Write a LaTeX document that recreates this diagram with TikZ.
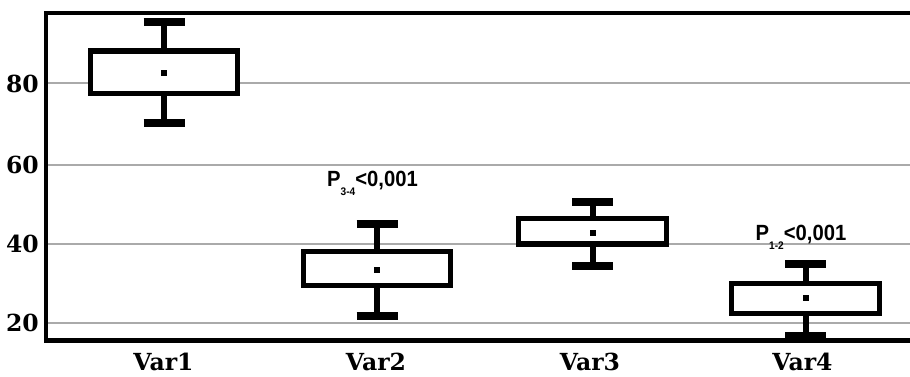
\documentclass[tikz,border=0pt]{standalone}
\usepackage{fontspec}
\newfontfamily\axfont{DejaVu Serif}
\newfontfamily\pfont[FakeStretch=0.92]{Liberation Sans}
\definecolor{gridgray}{RGB}{170,170,170}
\begin{document}
\begin{tikzpicture}[x=1pt,y=-1pt,
  gridline/.style={draw=gridgray,line width=2pt},
  frameline/.style={draw=black,line width=4.5pt},
  bx/.style={draw=black,fill=white,line width=5.5pt,inner sep=0pt,outer sep=0pt},
  stemline/.style={draw=black,line width=6pt},
  capline/.style={draw=black,line width=8pt},
  meandot/.style={fill=black,inner sep=0pt,minimum size=6pt},
  axlab/.style={font=\axfont\bfseries\fontsize{23.5}{23.5}\selectfont,inner sep=0pt},
  ptext/.style={font=\pfont\bfseries\fontsize{22}{22}\selectfont,inner sep=0pt}
]
\useasboundingbox (0,0) rectangle (910,376);
% grid
\foreach \yy in {83.3,164.7,243.7,322.7}{
  \draw[gridline] (46,\yy) -- (910,\yy);
}
% frame
\coordinate (ftr) at (910,13);
\coordinate (ftl) at (46,13);
\coordinate (fbl) at (46,340.5);
\coordinate (fbr) at (910,340.5);
\draw[frameline] (ftr) -- (ftl) -- (fbl) -- (fbr);
% whisker end coordinates
\coordinate (w1t) at (164,22);   \coordinate (w1b) at (164,123);
\coordinate (w2t) at (377,224);  \coordinate (w2b) at (377,315.5);
\coordinate (w3t) at (592.5,202);\coordinate (w3b) at (592.5,266);
\coordinate (w4t) at (805.5,264);\coordinate (w4b) at (805.5,336);
% box nodes (positions only, drawn later)
\path (164,72.25) node[minimum width=147pt,minimum height=42.5pt,inner sep=0pt,outer sep=0pt] (b1) {};
\path (377,268.5) node[minimum width=146.6pt,minimum height=34pt,inner sep=0pt,outer sep=0pt] (b2) {};
\path (592.5,231.25) node[minimum width=147.6pt,minimum height=25.5pt,inner sep=0pt,outer sep=0pt] (b3) {};
\path (805.5,298.5) node[minimum width=147.6pt,minimum height=30pt,inner sep=0pt,outer sep=0pt] (b4) {};
% stems and caps
\foreach \i in {1,2,3,4}{
  \draw[stemline] (w\i t) -- (b\i.north);
  \draw[stemline] (b\i.south) -- (w\i b);
  \draw[capline] ([xshift=-20.5pt]w\i t) -- ([xshift=20.5pt]w\i t);
  \draw[capline] ([xshift=-20.5pt]w\i b) -- ([xshift=20.5pt]w\i b);
}
% boxes
\node[bx,minimum width=147pt,minimum height=42.5pt] (bx1) at (b1) {};
\node[bx,minimum width=146.6pt,minimum height=34pt] (bx2) at (b2) {};
\node[bx,minimum width=147.6pt,minimum height=25.5pt] (bx3) at (b3) {};
\node[bx,minimum width=147.6pt,minimum height=30pt] (bx4) at (b4) {};
% mean dots
\node[meandot] (m1) at (164,73) {};
\node[meandot] (m2) at (377,270) {};
\node[meandot] (m3) at (592.5,233) {};
\node[meandot] (m4) at (805.5,298) {};
% p-value labels
\node[ptext,anchor=base] (p34) at (372.5,186) {P\raisebox{-9pt}{\fontsize{11}{11}\selectfont 3-4}<0,001};
\node[ptext,anchor=base] (p12) at (801,240) {P\raisebox{-9pt}{\fontsize{11}{11}\selectfont 1-2}<0,001};
% y labels
\node[axlab,anchor=east] (y80) at (39,83.5) {80};
\node[axlab,anchor=east] (y60) at (39,164.7) {60};
\node[axlab,anchor=east] (y40) at (39,243.7) {40};
\node[axlab,anchor=east] (y20) at (39,322.7) {20};
% x labels
\node[axlab,anchor=base] (l1) at (163.5,370.5) {Var1};
\node[axlab,anchor=base] (l2) at (376,370.5) {Var2};
\node[axlab,anchor=base] (l3) at (590,370.5) {Var3};
\node[axlab,anchor=base] (l4) at (802.5,370.5) {Var4};
\end{tikzpicture}
\end{document}
